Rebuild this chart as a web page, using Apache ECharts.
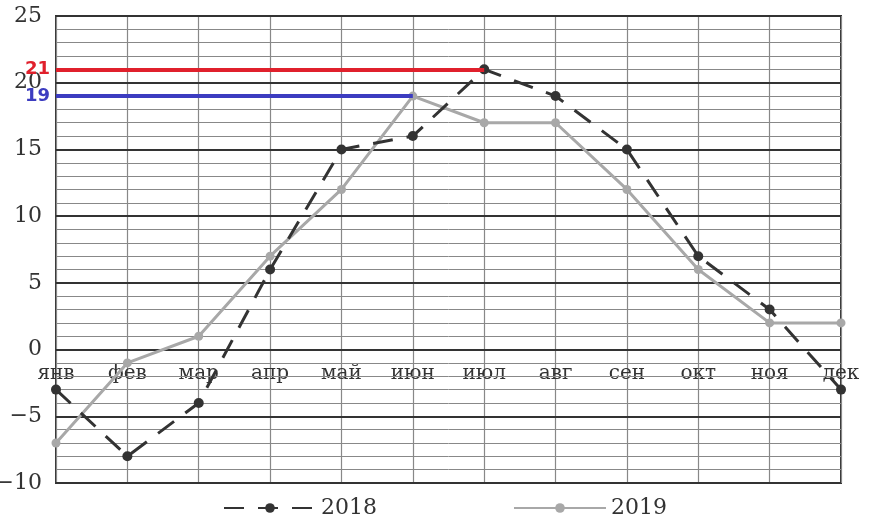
<!DOCTYPE html>
<html>
<head>
<meta charset="utf-8">
<script src="https://cdn.jsdelivr.net/npm/echarts@6/dist/echarts.min.js"></script>
<style>
  html, body { margin: 0; padding: 0; background: #fff; }
  #main { width: 871px; height: 526px; }
</style>
</head>
<body>
<div id="main"></div>
<script>
var months = ['янв', 'фев', 'мар', 'апр', 'май', 'июн', 'июл', 'авг', 'сен', 'окт', 'ноя', 'дек'];
var temp2018 = [-3, -8, -4, 6, 15, 16, 21, 19, 15, 7, 3, -3];
var temp2019 = [-7, -1, 1, 7, 12, 19, 17, 17, 12, 6, 2, 2];
var max2018 = 21;   // июл
var max2019 = 19;   // июн

var serif = '"DejaVu Serif", "Liberation Serif", serif';

var myChart = echarts.init(document.getElementById('main'));

// month labels sit just under the 0 line: grid is 467px for 35 units, 0 is 10 units up
var zeroOffset = -Math.round(467 / 35 * 10);

var option = {
  backgroundColor: '#fff',
  animation: false,
  grid: {
    left: 56, right: 30, top: 16, bottom: 43,
    outerBoundsMode: 'none',
    containLabel: false,
    show: true,
    borderColor: '#333',
    borderWidth: 2
  },
  legend: {
    left: 218,
    bottom: 2,
    itemWidth: 92,
    itemHeight: 12,
    itemGap: 136,
    textStyle: { fontFamily: serif, fontSize: 22, color: '#333' },
    data: ['2018', '2019']
  },
  xAxis: [
    {
      type: 'category',
      data: months,
      boundaryGap: false,
      axisLine: { onZero: false, show: false },
      axisTick: { show: false },
      axisLabel: { show: false },
      splitLine: { show: true, lineStyle: { color: '#888', width: 1.2 } }
    },
    {
      type: 'category',
      data: months,
      boundaryGap: false,
      position: 'bottom',
      offset: zeroOffset,
      axisLine: { onZero: false, show: false },
      axisTick: { show: false },
      axisLabel: {
        fontFamily: serif, fontSize: 20, color: '#333', margin: 14,
        interval: 0
      },
      splitLine: { show: false }
    }
  ],
  yAxis: [
    {
      type: 'value',
      min: -10, max: 25, interval: 5,
      axisLine: { show: false },
      axisTick: { show: false },
      axisLabel: {
        fontFamily: serif, fontSize: 22, color: '#333', margin: 14,
        formatter: function (v) { return v < 0 ? '\u2212' + Math.abs(v) : String(v); }
      },
      splitLine: { lineStyle: { color: '#333', width: 2 } },
      z: 2
    },
    {
      type: 'value',
      min: -10, max: 25, interval: 1,
      axisLine: { show: false },
      axisTick: { show: false },
      axisLabel: { show: false },
      splitLine: { lineStyle: { color: '#888', width: 1 } },
      z: 1
    }
  ],
  series: [
    {
      name: '2018',
      type: 'line',
      data: temp2018,
      symbol: 'circle',
      symbolSize: 10,
      itemStyle: { color: '#333' },
      lineStyle: { color: '#333', width: 3, type: [20, 14] },
      z: 4,
      markLine: {
        silent: true,
        symbol: 'none',
        label: {
          position: 'start', distance: 6, formatter: String(max2018),
          color: '#e0202c', fontWeight: 'bold', fontSize: 18,
          fontFamily: '"DejaVu Sans", sans-serif'
        },
        lineStyle: { color: '#e0202c', width: 4, type: 'solid' },
        data: [[{ coord: ['янв', max2018] }, { coord: ['июл', max2018] }]]
      }
    },
    {
      name: '2019',
      type: 'line',
      data: temp2019,
      symbol: 'circle',
      symbolSize: 9,
      itemStyle: { color: '#a8a8a8' },
      lineStyle: { color: '#a8a8a8', width: 3 },
      z: 3,
      markLine: {
        silent: true,
        symbol: 'none',
        label: {
          position: 'start', distance: 6, formatter: String(max2019),
          color: '#3c3cc0', fontWeight: 'bold', fontSize: 18,
          fontFamily: '"DejaVu Sans", sans-serif'
        },
        lineStyle: { color: '#3c3cc0', width: 4, type: 'solid' },
        data: [[{ coord: ['янв', max2019] }, { coord: ['июн', max2019] }]]
      }
    }
  ]
};

myChart.setOption(option);
</script>
</body>
</html>
